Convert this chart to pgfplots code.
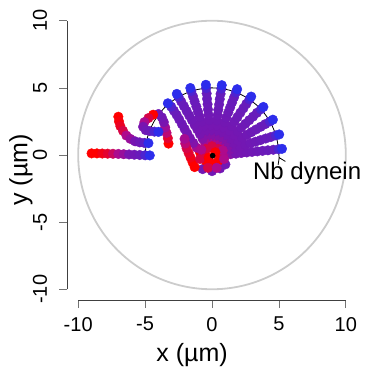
\documentclass[border=0pt]{standalone}
\usepackage{pgfplots}
\pgfplotsset{compat=1.18}
\usetikzlibrary{arrows.meta}
\usepackage{fontspec}
\setmainfont{Liberation Sans}
\begin{document}
\begin{tikzpicture}
\begin{axis}[
  at={(0,0)}, anchor=south west,
  scale only axis, width=289pt, height=290pt,
  xmin=-10.8, xmax=10.8, ymin=-10.8, ymax=10.8,
  axis x line*=bottom, axis y line*=left,
  axis line style={draw=none},
  xtick={-10,-5,0,5,10}, ytick={-10,-5,0,5,10},
  tick align=outside, major tick length=8pt,
  tick style={black!55, line width=0.7pt},
  /pgf/number format/assume math mode=true,
  ticklabel style={font=\fontsize{20}{24}\selectfont},
  xticklabel style={anchor=north, inner sep=0pt},
  xticklabel shift=9pt,
  yticklabel style={rotate=90, anchor=base, inner sep=0pt},
  yticklabel shift=12.5pt,
  clip=false,
  colormap={rb}{rgb255(0cm)=(255,0,0) rgb255(0.6cm)=(175,10,140) rgb255(2cm)=(122,20,175) rgb255(8.6cm)=(102,28,188) rgb255(10cm)=(45,45,235)},
  point meta min=0, point meta max=1,
  xlabel={x (µm)}, ylabel={y (µm)},
  label style={font=\fontsize{25}{30}\selectfont},
  xlabel style={at={(axis description cs:0.431,-0.19)}, anchor=center},
  ylabel style={at={(axis description cs:-0.161,0.448)}, anchor=center},
  traj/.style={scatter, only marks, mark=*, mark size=4.8pt, scatter src=explicit,
    scatter/use mapped color={draw=mapped color, fill=mapped color}},
]
\draw[black!20, line width=1.8pt] (axis cs:0,0) circle[radius=10];
\draw[black!75, line width=0.8pt] (axis cs:-10,-10.8) -- (axis cs:10,-10.8);
\draw[black!75, line width=0.8pt] (axis cs:-10.8,-10) -- (axis cs:-10.8,10);

% purple points below centre
\addplot[traj] table[meta=t] {
x y t
-0.7 -1.05 0.45
0.0 -1.2 0.5
0.6 -1.0 0.45
1.0 -0.7 0.5
};
% left trajectories
\addplot[traj] table[meta=t] {
x y t
-9.0 0.12 0
-8.6 0.12 0
-8.2 0.11 0.01
-7.8 0.10 0.02
-7.4 0.09 0.04
-7.0 0.08 0.07
-6.6 0.06 0.12
-6.2 0.04 0.25
-5.8 0.02 0.5
-5.4 0.00 0.75
-5.0 -0.02 0.92
-4.65 -0.03 1
};
\addplot[traj] table[meta=t] {
x y t
-7.0 2.85 0
-6.95 2.5 0.005
-6.85 2.15 0.015
-6.65 1.8 0.03
-6.4 1.45 0.06
-6.1 1.2 0.12
-5.75 1.02 0.3
-5.4 0.94 0.6
-5.05 0.9 0.88
-4.75 0.88 1
};
\addplot[traj] table[meta=t] {
x y t
-3.25 0.85 0
-3.3 1.25 0.02
-3.4 1.65 0.05
-3.5 2.05 0.1
-3.6 2.45 0.2
-3.75 2.8 0.4
-4.0 3.05 0.55
};
\addplot[traj] table[meta=t] {
x y t
-4.4 3.0 0
-4.75 2.75 0.03
-5.05 2.45 0.07
-5.15 2.1 0.2
-4.95 1.85 0.5
-4.65 1.78 0.7
-4.3 1.74 0.92
-4.0 1.72 1
};
% spokes
\addplot[traj] table[meta=t] {
x y t
0.60 -0.02 0
1.00 0.02 0.08
1.39 0.06 0.17
1.79 0.10 0.25
2.19 0.15 0.33
2.59 0.19 0.42
2.99 0.23 0.5
3.39 0.27 0.58
3.78 0.31 0.67
4.18 0.35 0.75
4.58 0.39 0.83
4.98 0.43 0.92
5.23 0.46 1
};
\addplot[traj] table[meta=t] {
x y t
0.57 0.18 0
0.96 0.29 0.08
1.34 0.41 0.17
1.72 0.53 0.25
2.10 0.64 0.33
2.49 0.76 0.42
2.87 0.88 0.5
3.25 0.99 0.58
3.63 1.11 0.67
4.02 1.23 0.75
4.40 1.34 0.83
4.78 1.46 0.92
5.02 1.53 1
};
\addplot[traj] table[meta=t] {
x y t
0.52 0.30 0
0.87 0.50 0.08
1.21 0.70 0.17
1.56 0.90 0.25
1.91 1.10 0.33
2.25 1.30 0.42
2.60 1.50 0.5
2.94 1.70 0.58
3.29 1.90 0.67
3.64 2.10 0.75
3.98 2.30 0.83
4.33 2.50 0.92
4.55 2.63 1
};
\addplot[traj] table[meta=t] {
x y t
0.44 0.41 0
0.73 0.68 0.08
1.02 0.95 0.17
1.32 1.23 0.25
1.61 1.50 0.33
1.90 1.77 0.42
2.19 2.05 0.5
2.49 2.32 0.58
2.78 2.59 0.67
3.07 2.86 0.75
3.36 3.14 0.83
3.66 3.41 0.92
3.84 3.58 1
};
\addplot[traj] table[meta=t] {
x y t
0.34 0.50 0
0.56 0.83 0.08
0.78 1.16 0.17
1.01 1.49 0.25
1.23 1.82 0.33
1.45 2.16 0.42
1.68 2.49 0.5
1.90 2.82 0.58
2.12 3.15 0.67
2.35 3.48 0.75
2.57 3.81 0.83
2.80 4.15 0.92
2.93 4.35 1
};
\addplot[traj] table[meta=t] {
x y t
0.21 0.56 0
0.36 0.93 0.08
0.50 1.31 0.17
0.64 1.68 0.25
0.79 2.05 0.33
0.93 2.43 0.42
1.07 2.80 0.5
1.22 3.18 0.58
1.36 3.55 0.67
1.50 3.92 0.75
1.65 4.30 0.83
1.79 4.67 0.92
1.88 4.90 1
};
\addplot[traj] table[meta=t] {
x y t
0.08 0.59 0
0.14 0.99 0.08
0.19 1.39 0.17
0.25 1.78 0.25
0.31 2.18 0.33
0.36 2.57 0.42
0.42 2.97 0.5
0.47 3.37 0.58
0.53 3.76 0.67
0.58 4.16 0.75
0.64 4.55 0.83
0.70 4.95 0.92
0.73 5.20 1
};
\addplot[traj] table[meta=t] {
x y t
-0.05 0.60 0
-0.09 1.00 0.08
-0.12 1.39 0.17
-0.16 1.79 0.25
-0.19 2.19 0.33
-0.23 2.59 0.42
-0.26 2.99 0.5
-0.30 3.39 0.58
-0.33 3.78 0.67
-0.37 4.18 0.75
-0.40 4.58 0.83
-0.44 4.98 0.92
-0.46 5.23 1
};
\addplot[traj] table[meta=t] {
x y t
-0.19 0.57 0
-0.31 0.95 0.08
-0.43 1.33 0.17
-0.56 1.71 0.25
-0.68 2.09 0.33
-0.80 2.47 0.42
-0.93 2.85 0.5
-1.05 3.23 0.58
-1.17 3.61 0.67
-1.30 3.99 0.75
-1.42 4.37 0.83
-1.55 4.76 0.92
-1.62 4.99 1
};
\addplot[traj] table[meta=t] {
x y t
-0.30 0.52 0
-0.50 0.87 0.08
-0.70 1.21 0.17
-0.90 1.56 0.25
-1.10 1.91 0.33
-1.30 2.25 0.42
-1.50 2.60 0.5
-1.70 2.94 0.58
-1.90 3.29 0.67
-2.10 3.64 0.75
-2.30 3.98 0.83
-2.50 4.33 0.92
-2.63 4.55 1
};
\addplot[traj] table[meta=t] {
x y t
-0.9 0.2 0
-1.15 0.55 0.09
-1.4 0.9 0.18
-1.65 1.25 0.27
-1.85 1.6 0.36
-2.05 1.95 0.45
-2.25 2.3 0.55
-2.45 2.65 0.64
-2.65 3.0 0.73
-2.85 3.3 0.82
-3.05 3.6 0.91
-3.3 3.85 1
};
% red trajectory left of centre
\addplot[traj] table[meta=t] {
x y t
-1.3 -0.9 0
-1.45 -0.55 0
-1.6 -0.2 0.01
-1.75 0.15 0.02
-1.9 0.5 0.03
-2.0 0.85 0.05
-2.05 1.2 0.08
};
% red cluster at centre
\addplot[traj] table[meta=t] {
x y t
0.6 0.0 0.03
0.45 0.45 0.03
0.0 0.65 0.03
-0.45 0.45 0.03
-0.65 0.0 0.03
-0.45 -0.45 0
-0.0 -0.65 0
0.45 -0.45 0
0.9 -0.3 0.06
-0.9 -0.3 0.03
-0.3 -0.95 0.03
0.35 -0.95 0.06
0.8 0.35 0.06
-0.8 0.4 0.06
0.25 0.2 0
-0.25 -0.2 0
};
\addplot[black, no marks, line width=0.8pt, smooth, -{Straight Barb[length=6pt, width=8pt]}] coordinates {
(-5,0) (-4.830,1.294) (-4.330,2.5) (-3.536,3.536) (-2.5,4.330) (-1.294,4.830) (0,5) (1.294,4.830) (2.5,4.330) (3.536,3.536) (4.330,2.5) (4.830,1.294) (5,0) (5.0,-0.15)
};
\addplot[black, only marks, mark=*, mark size=2.6pt] coordinates {(0.05,-0.05)};
\node[anchor=base west, inner sep=0pt, font=\fontsize{24}{28}\selectfont] at (axis cs:3.06,-1.81) {Nb dynein};
\end{axis}
\pgfresetboundingbox
\path (-67.5pt,-66pt) rectangle (303.5pt,300pt);
\end{tikzpicture}
\end{document}
